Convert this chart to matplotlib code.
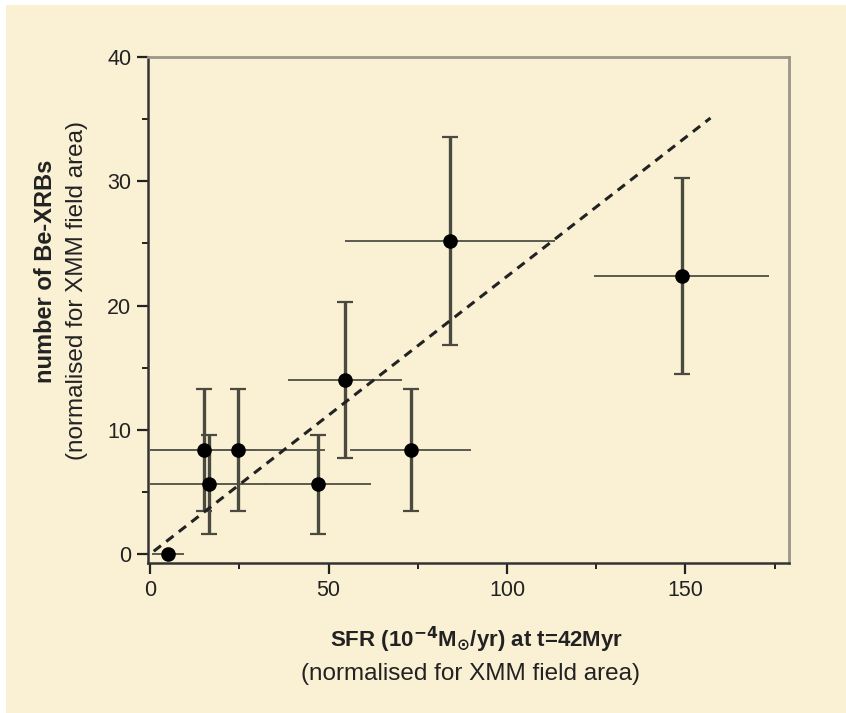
import matplotlib
matplotlib.use("Agg")
import matplotlib.pyplot as plt
from matplotlib.patches import Rectangle
from matplotlib.ticker import MultipleLocator
import numpy as np

plt.rcParams['font.family'] = ['Liberation Sans', 'DejaVu Sans']

# Star-formation rate (1e-4 Msun/yr) and number of Be-XRBs, per field
sfr = [5.0, 15.0, 24.5, 16.5, 47.0, 54.5, 73.0, 84.0, 149.0]
sfr_err = [4.5, 15.0, 24.5, 16.5, 15.0, 16.0, 17.0, 29.5, 24.5]
n_xrb = [0.0, 8.4, 8.4, 5.6, 5.6, 14.0, 8.4, 25.2, 22.4]
n_lo = [0.0, 4.9, 4.9, 4.0, 4.0, 6.3, 4.9, 8.4, 7.9]
n_hi = [0.0, 4.9, 4.9, 4.0, 4.0, 6.3, 4.9, 8.4, 7.9]

# Linear relation N = k * SFR
fit_slope = 0.2235
fit_x = [1.0, 157.0]

bg = '#faf0d4'
bar_col = '#4a4a40'
txt = '#222222'

fig = plt.figure(figsize=(8.46, 7.13), dpi=100)
fig.patch.set_facecolor(bg)
# thin white margin along the top and left edges
fig.patches.append(Rectangle((0, 1 - 5 / 713), 1, 5 / 713, transform=fig.transFigure,
                             facecolor='white', edgecolor='none', zorder=-10))
fig.patches.append(Rectangle((0, 0), 6 / 846, 1, transform=fig.transFigure,
                             facecolor='white', edgecolor='none', zorder=-10))

ax = fig.add_axes([148 / 846, 1 - 563 / 713, (789 - 148) / 846, (563 - 57) / 713])
ax.set_facecolor(bg)

# horizontal (SFR) error bars
ax.errorbar(sfr, n_xrb, xerr=sfr_err, fmt='none', ecolor='#5a5a50',
            elinewidth=1.4, capsize=0, zorder=2)
# vertical (count) error bars with caps
yerr = np.array([n_lo, n_hi])
ax.errorbar(sfr[1:], n_xrb[1:], yerr=yerr[:, 1:], fmt='none', ecolor=bar_col,
            elinewidth=2.4, capsize=6, capthick=1.6, zorder=3)
ax.plot(sfr, n_xrb, 'o', color='black', markersize=9.5, zorder=4)

fx = np.array(fit_x)
ax.plot(fx, fit_slope * fx, linestyle=(0, (3, 2.2)), color=txt, linewidth=2.2, zorder=3)

ax.set_xlim(-0.6, 179)
ax.set_ylim(-0.72, 40)
ax.xaxis.set_major_locator(MultipleLocator(50))
ax.xaxis.set_minor_locator(MultipleLocator(25))
ax.yaxis.set_major_locator(MultipleLocator(10))
ax.yaxis.set_minor_locator(MultipleLocator(5))
ax.tick_params(which='major', direction='out', length=8, width=1.6, labelsize=15.5,
               color=txt, labelcolor=txt, pad=4, top=False, right=False)
ax.tick_params(which='minor', direction='out', length=4.5, width=1.4, color=txt,
               top=False, right=False)

for side in ['left', 'bottom']:
    ax.spines[side].set_color('#333333')
    ax.spines[side].set_linewidth(1.8)
for side in ['top', 'right']:
    ax.spines[side].set_color('#9a968a')
    ax.spines[side].set_linewidth(2.0)

fig.text(477 / 846, 1 - 640 / 713,
         r'SFR (10$^{\mathbf{-4}}$M$_{\mathbf{\odot}}$/yr) at t=42Myr',
         ha='center', va='center', fontsize=16, fontweight='bold', color=txt)
fig.text(470 / 846, 1 - 674 / 713, '(normalised for XMM field area)',
         ha='center', va='center', fontsize=17.5, color=txt)
fig.text(45 / 846, 1 - 271 / 713, 'number of Be-XRBs', rotation=90,
         ha='center', va='center', fontsize=17, fontweight='bold', color=txt)
fig.text(77 / 846, 1 - 290 / 713, '(normalised for XMM field area)', rotation=90,
         ha='center', va='center', fontsize=17.5, color=txt)

fig.savefig('out.png', dpi=100, facecolor=fig.get_facecolor())
